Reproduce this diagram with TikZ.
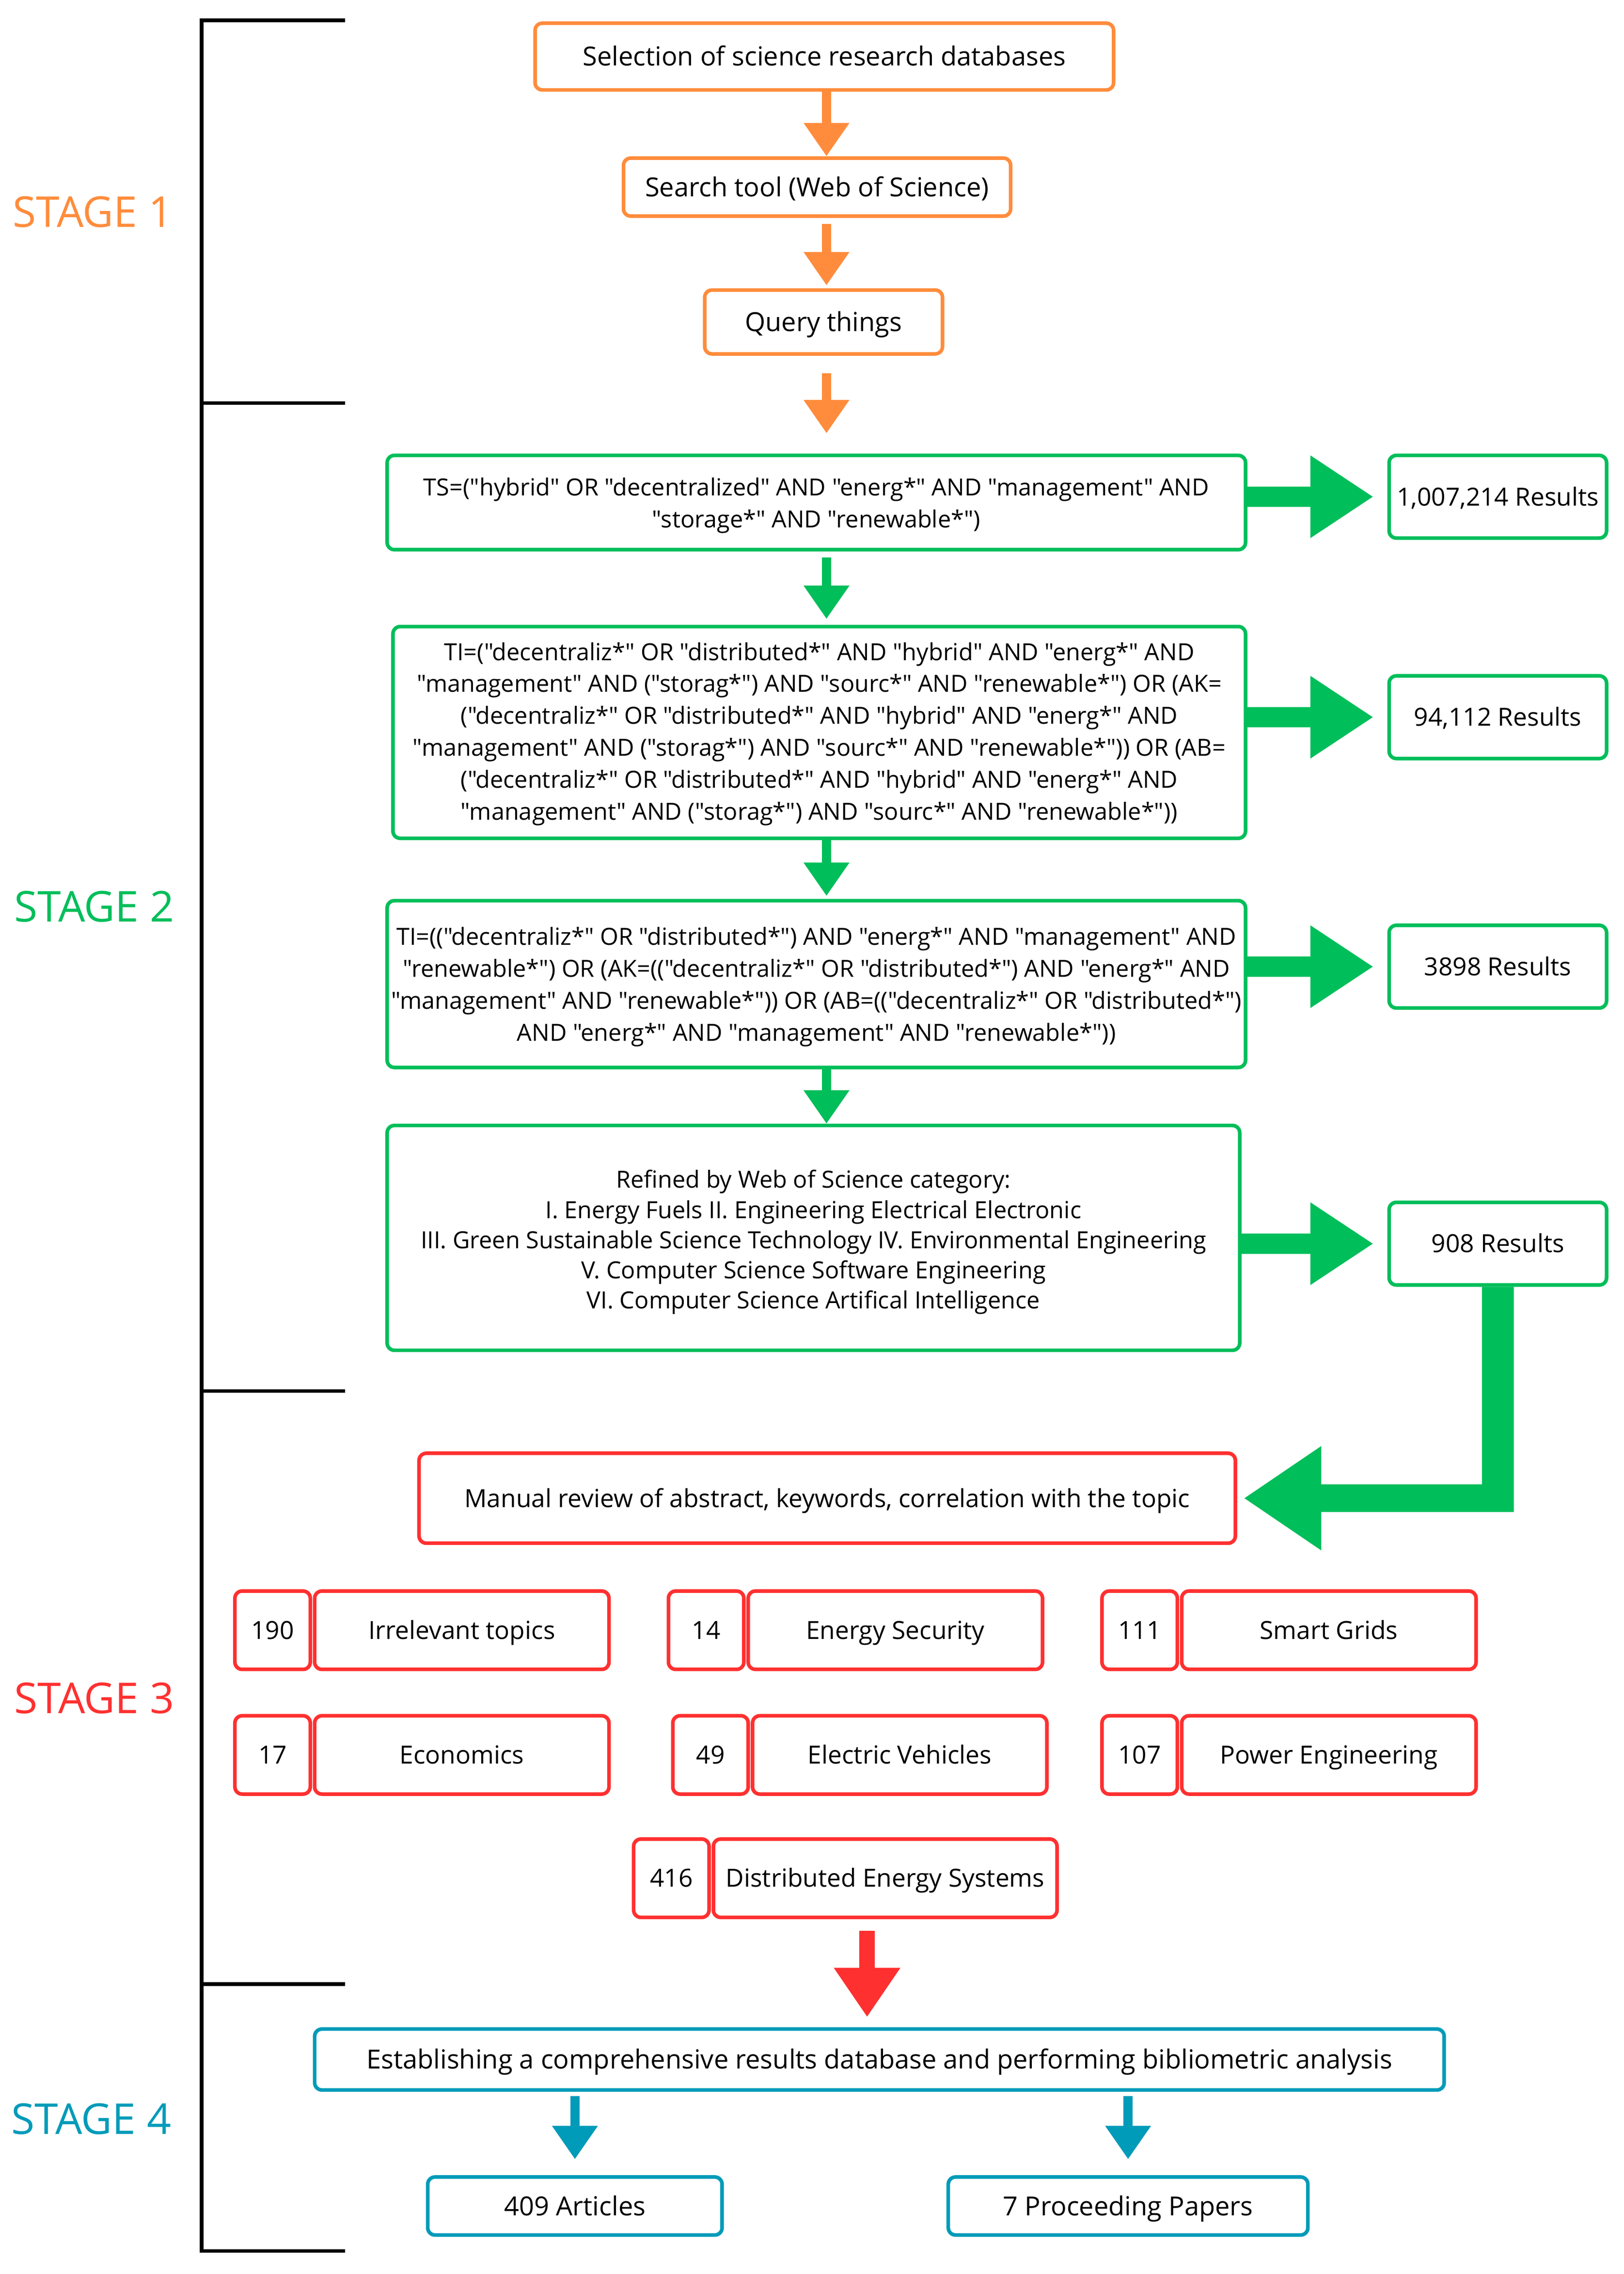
\documentclass[tikz,border=0pt]{standalone}
\usepackage{fontspec}
\setmainfont{Open Sans}[Ligatures=TeXOff]
\usetikzlibrary{arrows.meta,calc}
\definecolor{cor}{RGB}{255,140,60}
\definecolor{cgr}{RGB}{0,190,90}
\definecolor{cre}{RGB}{255,48,48}
\definecolor{cte}{RGB}{0,155,185}
\newcommand\topstrut[1]{\rule{0pt}{#1}}
\begin{document}
\begin{tikzpicture}[x=1pt,y=-1pt,
  box/.style={draw, line width=2.5pt, rounded corners=5pt, align=center, inner sep=1pt,
    font=\fontsize{16.25}{22}\selectfont, text=black},
  bigtxt/.style={font=\fontsize{18.1}{22}\selectfont, text height=12.9pt, text depth=0pt},
  midtxt/.style={font=\fontsize{17.2}{22}\selectfont, text height=12.3pt, text depth=0pt},
  obox/.style={box, bigtxt, draw=cor},
  gbox/.style={box, draw=cgr},
  resbox/.style={box, midtxt, draw=cgr, minimum width=150, minimum height=57},
  rbox/.style={box, midtxt, draw=cre},
  tbox/.style={box, bigtxt, draw=cte},
  thinarrow/.style={line width=6.5pt, -{Triangle[length=23pt,width=30pt]}},
  oarrow/.style={thinarrow, draw=cor},
  garrow/.style={thinarrow, draw=cgr},
  tarrow/.style={thinarrow, draw=cte},
  rarrow/.style={line width=10.5pt, draw=cre, -{Triangle[length=34pt,width=43.5pt]}},
  stagelab/.style={font=\fontsize{29.3}{32}\selectfont, inner sep=0pt},
  bracket/.style={line width=2.5pt, draw=black},
  gfill/.style={fill=cgr}
]
\fill[white] (0,0) rectangle (1119.7,1567.9);
\useasboundingbox (0,0) rectangle (1119.7,1567.9);

% bracket
\draw[bracket] (238,14) -- (139,14) -- (139,1552) -- (238,1552);
\draw[bracket] (139,278) -- (238,278);
\draw[bracket] (139,959) -- (238,959);
\draw[bracket] (139,1368) -- (238,1368);

% stage labels
\node[stagelab, text=cor] (s1) at (64,146) {STAGE 1};
\node[stagelab, text=cgr] (s2) at (65,625) {STAGE 2};
\node[stagelab, text=cre] (s3) at (65,1171) {STAGE 3};
\node[stagelab, text=cte] (s4) at (63,1461) {STAGE 4};

% stage 1
\node[obox, minimum width=399, minimum height=46] (sel) at (568.5,39) {Selection of science research databases};
\node[obox, minimum width=267, minimum height=40] (search) at (563.5,129) {Search tool (Web of Science)};
\node[obox, minimum width=164, minimum height=44] (query) at (568,222) {Query things};

% stage 2
\node[gbox, minimum width=592, minimum height=65] (ts) at (563,346.5)
  {\topstrut{16.4pt}TS=("hybrid" OR "decentralized" AND "energ*" AND "management" AND\\"storage*" AND "renewable*")};
\node[resbox] (r1) at (1033,342.5) {1,007,214 Results};

\node[gbox, minimum width=588, minimum height=146] (ti) at (565,505)
  {\topstrut{14.4pt}TI=("decentraliz*" OR "distributed*" AND "hybrid" AND "energ*" AND\\
   "management" AND ("storag*") AND "sourc*" AND "renewable*") OR (AK=\\
   ("decentraliz*" OR "distributed*" AND "hybrid" AND "energ*" AND\\
   "management" AND ("storag*") AND "sourc*" AND "renewable*")) OR (AB=\\
   ("decentraliz*" OR "distributed*" AND "hybrid" AND "energ*" AND\\
   "management" AND ("storag*") AND "sourc*" AND "renewable*"))};
\node[resbox] (r2) at (1033,494.5) {94,112 Results};

\node[gbox, minimum width=592, minimum height=115, inner sep=0pt] (ti2) at (563,678.5)
  {\topstrut{16.4pt}TI=(("decentraliz*" OR "distributed*") AND "energ*" AND "management" AND\\
   "renewable*") OR (AK=(("decentraliz*" OR "distributed*") AND "energ*" AND\\
   "management" AND "renewable*")) OR (AB=(("decentraliz*" OR "distributed*")\\
   AND "energ*" AND "management" AND "renewable*"))};
\node[resbox] (r3) at (1033,666.5) {3898 Results};

\node[gbox, minimum width=588, minimum height=155, font=\fontsize{16.25}{20.8}\selectfont] (ref) at (561,853.5)
  {\topstrut{18.4pt}Refined by Web of Science category:\\
   I. Energy Fuels II. Engineering Electrical Electronic\\
   III. Green Sustainable Science Technology IV. Environmental Engineering\\
   V. Computer Science Software Engineering\\
   VI. Computer Science Artifical Intelligence};
\node[resbox] (r4) at (1033,857.5) {908 Results};

% stage 3
\node[rbox, minimum width=563, minimum height=62] (manual) at (570.5,1033)
  {Manual review of abstract, keywords, correlation with the topic};

\node[rbox, minimum width=52, minimum height=54] (n190) at (188,1124) {190};
\node[rbox, minimum width=203, minimum height=54] (irr) at (318.5,1124) {Irrelevant topics};
\node[rbox, minimum width=52, minimum height=54] (n14) at (487,1124) {14};
\node[rbox, minimum width=203, minimum height=54] (es) at (617.5,1124) {Energy Security};
\node[rbox, minimum width=52, minimum height=54] (n111) at (786,1124) {111};
\node[rbox, minimum width=203, minimum height=54] (sg) at (916.5,1124) {Smart Grids};

\node[rbox, minimum width=52, minimum height=54] (n17) at (188,1210) {17};
\node[rbox, minimum width=203, minimum height=54] (econ) at (318.5,1210) {Economics};
\node[rbox, minimum width=52, minimum height=54] (n49) at (490,1210) {49};
\node[rbox, minimum width=203, minimum height=54] (ev) at (620.5,1210) {Electric Vehicles};
\node[rbox, minimum width=52, minimum height=54] (n107) at (786,1210) {107};
\node[rbox, minimum width=203, minimum height=54] (pe) at (916.5,1210) {Power Engineering};

\node[rbox, minimum width=52, minimum height=54] (n416) at (463,1295) {416};
\node[rbox, minimum width=237, minimum height=54] (des) at (610.5,1295) {Distributed Energy Systems};

% stage 4
\node[tbox, minimum width=779, minimum height=42] (est) at (606.5,1420)
  {Establishing a comprehensive results database and performing bibliometric analysis};
\node[tbox, minimum width=203, minimum height=40] (art) at (396.5,1521) {409 Articles};
\node[tbox, minimum width=248, minimum height=40] (proc) at (778,1521) {7 Proceeding Papers};

% thin arrows
\coordinate (col) at (570,0);
\draw[oarrow] (sel.south -| col) -- (search.north -| col);
\draw[oarrow, shorten <=4pt, shorten >=2pt] (search.south -| col) -- (query.north -| col);
\draw[oarrow, shorten <=12pt, shorten >=14pt] (query.south -| col) -- (ts.north -| col);
\draw[garrow, shorten <=4pt, shorten >=4pt] (ts.south -| col) -- (ti.north -| col);
\draw[garrow, shorten >=2pt] (ti.south -| col) -- (ti2.north -| col);
\draw[garrow] (ti2.south -| col) -- (ref.north -| col);
\draw[tarrow, shorten <=3pt, shorten >=11pt] (est.south -| art.north) -- (art.north);
\draw[tarrow, shorten <=3pt, shorten >=11pt] (est.south -| proc.north) -- (proc.north);
\draw[rarrow] ($(des.south)+(-12.5,8)$) -- ($(est.north)+(-8.5,-7)$);

% big green arrows
\fill[gfill] let \p1=(ts.east), \p2=(r1.west) in
  (\x1,\y2+7pt) -- (\x2-53pt,\y2+7pt) -- (\x2-53pt,\y2+28.5pt) -- (\x2-10pt,\y2)
  -- (\x2-53pt,\y2-28.5pt) -- (\x2-53pt,\y2-7pt) -- (\x1,\y2-7pt) -- cycle;
\fill[gfill] let \p1=(ti.east), \p2=(r2.west) in
  (\x1,\y2+7pt) -- (\x2-53pt,\y2+7pt) -- (\x2-53pt,\y2+28.5pt) -- (\x2-10pt,\y2)
  -- (\x2-53pt,\y2-28.5pt) -- (\x2-53pt,\y2-7pt) -- (\x1,\y2-7pt) -- cycle;
\fill[gfill] let \p1=(ti2.east), \p2=(r3.west) in
  (\x1,\y2+7pt) -- (\x2-53pt,\y2+7pt) -- (\x2-53pt,\y2+28.5pt) -- (\x2-10pt,\y2)
  -- (\x2-53pt,\y2-28.5pt) -- (\x2-53pt,\y2-7pt) -- (\x1,\y2-7pt) -- cycle;
\fill[gfill] let \p1=(ref.east), \p2=(r4.west) in
  (\x1,\y2+7pt) -- (\x2-53pt,\y2+7pt) -- (\x2-53pt,\y2+28.5pt) -- (\x2-10pt,\y2)
  -- (\x2-53pt,\y2-28.5pt) -- (\x2-53pt,\y2-7pt) -- (\x1,\y2-7pt) -- cycle;
% elbow arrow
\fill[gfill] let \p1=(r4.south), \p2=(manual.east) in
  (\x1-11pt,\y1) -- (\x1+11pt,\y1) -- (\x1+11pt,\y2-9.5pt) -- (\x2+58pt,\y2-9.5pt)
  -- (\x2+58pt,\y2-36pt) -- (\x2+5pt,\y2) -- (\x2+58pt,\y2+36pt) -- (\x2+58pt,\y2+9.5pt)
  -- (\x1-11pt,\y2+9.5pt) -- cycle;
\end{tikzpicture}
\end{document}
